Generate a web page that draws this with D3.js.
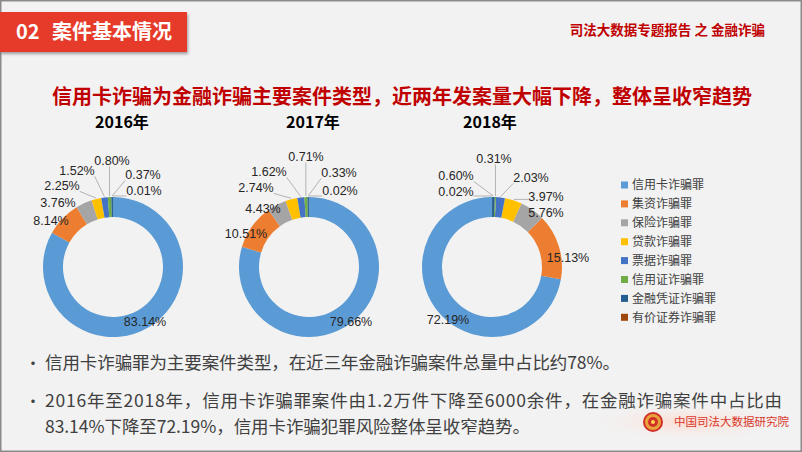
<!DOCTYPE html>
<html>
<head>
<meta charset="utf-8">
<script src="https://cdn.jsdelivr.net/npm/d3@7"></script>
<style>
  html, body { margin: 0; padding: 0; background: #f2f2f2; }
  svg { display: block; }
  text { font-family: "Noto Sans CJK SC", "Noto Sans", sans-serif; }
</style>
</head>
<body>
<div id="chart"></div>
<script>
// Data
const categories = ['信用卡诈骗罪', '集资诈骗罪', '保险诈骗罪', '贷款诈骗罪', '票据诈骗罪', '信用证诈骗罪', '金融凭证诈骗罪', '有价证券诈骗罪'];
const years = ['2016年', '2017年', '2018年'];
const share2016 = [83.14, 8.14, 3.76, 2.25, 1.52, 0.80, 0.37, 0.01];
const share2017 = [79.66, 10.51, 4.43, 2.74, 1.62, 0.71, 0.33, 0.02];
const share2018 = [72.19, 15.13, 5.76, 3.97, 2.03, 0.31, 0.60, 0.02];
const colors = ['#5b9bd5', '#ed7d31', '#a5a5a5', '#ffc000', '#4472c4', '#70ad47', '#255e91', '#9e480e'];

const title = '信用卡诈骗为金融诈骗主要案件类型，近两年发案量大幅下降，整体呈收窄趋势';
const bullets = [
  ['信用卡诈骗罪为主要案件类型，在近三年金融诈骗案件总量中占比约78%。'],
  ['2016年至2018年，信用卡诈骗罪案件由1.2万件下降至6000余件，在金融诈骗案件中占比由',
   '83.14%下降至72.19%，信用卡诈骗犯罪风险整体呈收窄趋势。']
];

// Layout
const W = 802, H = 452;
const rOut = 70, rIn = 50;
const donuts = [
  { year: years[0], values: share2016, cx: 113, cy: 267, dir: 1, yearX: 122,
    labelOff: [[32, 55], [-62, -46], [-55, -64], [-51, -81], [-36, -96], [-1, -106], [30, -92], [31, -76]] },
  { year: years[1], values: share2017, cx: 309, cy: 267, dir: 1, yearX: 313,
    labelOff: [[42, 55], [-63, -33], [-46, -58], [-53, -79], [-40, -95], [-3, -110], [30, -94], [31, -76]] },
  { year: years[2], values: share2018, cx: 492, cy: 267, dir: -1, yearX: 490,
    labelOff: [[-44, 53], [76, -9], [54, -54], [54, -70], [39, -89], [2, -108], [-36, -91], [-36, -75]] }
];
const lineY = [363, 401, 427];
const lineLen = [575, 737, 485];

const svg = d3.select('#chart').append('svg')
  .attr('width', W)
  .attr('height', H);

const defs = svg.append('defs');
const shadow = defs.append('filter').attr('id', 'shadow')
  .attr('x', '-10%').attr('y', '-20%').attr('width', '130%').attr('height', '160%');
shadow.append('feDropShadow')
  .attr('dx', 1).attr('dy', 2).attr('stdDeviation', 1.5)
  .attr('flood-color', '#000').attr('flood-opacity', 0.35);

const glow = defs.append('radialGradient').attr('id', 'glow');
glow.append('stop').attr('offset', '0%').attr('stop-color', '#ffd9cc').attr('stop-opacity', 0.9);
glow.append('stop').attr('offset', '100%').attr('stop-color', '#f2f2f2').attr('stop-opacity', 0);

// Frame
svg.append('rect')
  .attr('x', 0.75).attr('y', 0.75)
  .attr('width', W - 1.5).attr('height', H - 1.5)
  .attr('fill', '#f2f2f2')
  .attr('stroke', '#8a8a8a')
  .attr('stroke-width', 1.5);

// Header box
svg.append('rect')
  .attr('x', 0).attr('y', 12)
  .attr('width', 187).attr('height', 40)
  .attr('fill', '#e63a2c')
  .attr('filter', 'url(#shadow)');

svg.append('text')
  .attr('x', 16).attr('y', 39)
  .attr('fill', '#fff')
  .attr('font-size', 20)
  .attr('font-weight', 'bold')
  .text('02');
svg.append('text')
  .attr('x', 52).attr('y', 39)
  .attr('fill', '#fff')
  .attr('font-size', 20)
  .attr('font-weight', 'bold')
  .text('案件基本情况');

svg.append('text')
  .attr('x', 765).attr('y', 35)
  .attr('text-anchor', 'end')
  .attr('fill', '#c00000')
  .attr('font-size', 13.5)
  .attr('font-weight', 'bold')
  .text('司法大数据专题报告 之 金融诈骗');

// Title
svg.append('text')
  .attr('x', 402).attr('y', 104)
  .attr('text-anchor', 'middle')
  .attr('fill', '#c00000')
  .attr('font-size', 20)
  .attr('font-weight', 'bold')
  .text(title);

// Donuts
const arc = d3.arc().innerRadius(rIn).outerRadius(rOut);

donuts.forEach(d => {
  const pie = d3.pie().sort(null)
    .startAngle(0)
    .endAngle(d.dir * 2 * Math.PI);
  const arcs = pie(d.values);

  const g = svg.append('g').attr('transform', `translate(${d.cx},${d.cy})`);

  svg.append('text')
    .attr('x', d.yearX).attr('y', 128)
    .attr('text-anchor', 'middle')
    .attr('fill', '#000')
    .attr('font-size', 16)
    .attr('font-weight', 'bold')
    .text(d.year);

  g.selectAll('path')
    .data(arcs)
    .join('path')
    .attr('d', arc)
    .attr('fill', (a, i) => colors[i]);

  const labels = g.selectAll('text.lbl')
    .data(arcs)
    .join('text')
    .attr('class', 'lbl')
    .attr('x', (a, i) => d.labelOff[i][0])
    .attr('y', (a, i) => d.labelOff[i][1])
    .attr('dy', '0.35em')
    .attr('text-anchor', 'middle')
    .style('font-family', '"Liberation Sans", Arial, sans-serif')
    .attr('font-size', 12.5)
    .attr('fill', '#262626')
    .text(a => a.data.toFixed(2) + '%');

  // Leader lines: from slice edge to nearest point of the label box
  labels.each(function(a) {
    const b = this.getBBox();
    const mid = (a.startAngle + a.endAngle) / 2;
    const px = (rOut + 1) * Math.sin(mid);
    const py = -(rOut + 1) * Math.cos(mid);
    const qx = Math.max(b.x, Math.min(px, b.x + b.width));
    const qy = Math.max(b.y + 2, Math.min(py, b.y + b.height - 2));
    const dist = Math.hypot(qx - px, qy - py);
    if (dist > 9) {
      g.insert('line', 'text')
        .attr('x1', px).attr('y1', py)
        .attr('x2', qx).attr('y2', qy)
        .attr('stroke', '#b3b3b3')
        .attr('stroke-width', 1);
    }
  });
});

// Legend
const legend = svg.append('g').attr('transform', 'translate(621,185)');
const rows = legend.selectAll('g')
  .data(categories)
  .join('g')
  .attr('transform', (c, i) => `translate(0,${i * 18.9})`);
rows.append('rect')
  .attr('x', 0).attr('y', -3.5)
  .attr('width', 7).attr('height', 7)
  .attr('fill', (c, i) => colors[i]);
rows.append('text')
  .attr('x', 11).attr('dy', '0.35em')
  .attr('font-size', 12)
  .attr('fill', '#404040')
  .text(c => c);

// Bullet text
let li = 0;
bullets.forEach(par => {
  par.forEach((line, j) => {
    if (j === 0) {
      svg.append('text')
        .attr('x', 33).attr('y', lineY[li]).attr('dy', '0.35em')
        .attr('text-anchor', 'middle')
        .attr('font-size', 16)
        .attr('fill', '#404040')
        .text('•');
    }
    svg.append('text')
      .attr('x', 45).attr('y', lineY[li]).attr('dy', '0.35em')
      .attr('font-size', 17.5)
      .attr('fill', '#404040')
      .attr('textLength', lineLen[li])
      .attr('lengthAdjust', 'spacing')
      .text(line);
    li++;
  });
});

// Logo
svg.append('ellipse')
  .attr('cx', 690).attr('cy', 422)
  .attr('rx', 110).attr('ry', 20)
  .attr('fill', 'url(#glow)');
const logo = svg.append('g').attr('transform', 'translate(653,422)');
logo.append('circle').attr('r', 9).attr('fill', '#e8a33a').attr('stroke', '#d1302a').attr('stroke-width', 2);
logo.append('circle').attr('r', 5).attr('fill', '#d1302a');
logo.append('circle').attr('r', 2).attr('fill', '#ffd54f');
svg.append('text')
  .attr('x', 674).attr('y', 422).attr('dy', '0.35em')
  .attr('font-size', 11.5)
  .attr('fill', '#d9372b')
  .text('中国司法大数据研究院');
</script>
</body>
</html>
